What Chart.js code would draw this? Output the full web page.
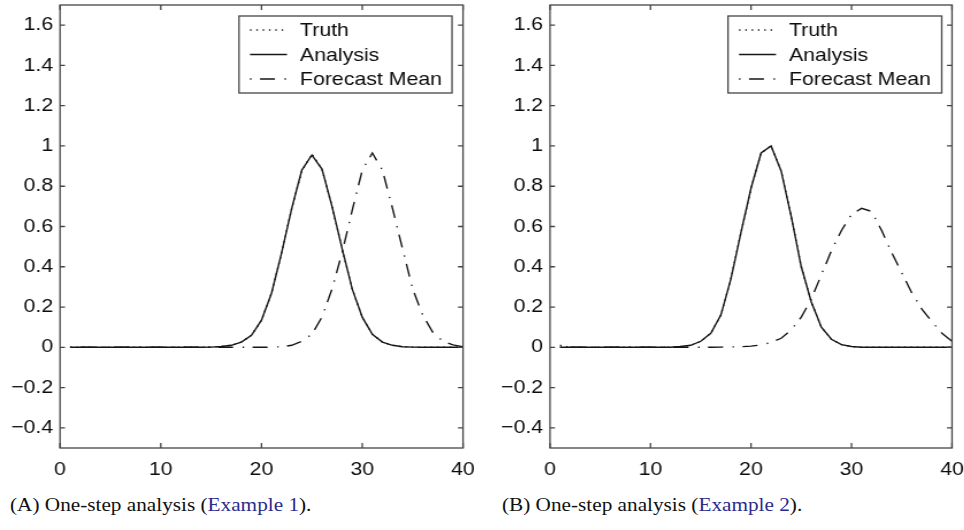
<!DOCTYPE html>
<html>
<head>
<meta charset="utf-8">
<script src="https://cdn.jsdelivr.net/npm/chart.js@4/dist/chart.umd.min.js"></script>
<style>
  html, body { margin:0; padding:0; background:#fff; }
  body { width:964px; height:530px; overflow:hidden; position:relative; }
  .stretch { position:absolute; top:0; height:490px; transform:scaleX(1.15); transform-origin:0 0; }
  #w1 { left:0; width:417px; }
  #w2 { left:480px; width:421px; }
  .cap { position:absolute; top:494px; font-family:"Liberation Serif","Times New Roman",serif; font-size:18px;
         line-height:22px; color:#111; white-space:nowrap; transform:scaleX(1.18); transform-origin:0 0; }
  .cap span { color:#2b2b8e; }
</style>
</head>
<body>
<div class="stretch" id="w1"><canvas id="c1"></canvas></div>
<div class="stretch" id="w2"><canvas id="c2"></canvas></div>
<div class="cap" style="left:10px;">(A) One-step analysis (<span>Example 1</span>).</div>
<div class="cap" style="left:502px;">(B) One-step analysis (<span>Example 2</span>).</div>
<script>
// ---- data ----
const xs = [1,2,3,4,5,6,7,8,9,10,11,12,13,14,15,16,17,18,19,20,21,22,23,24,25,26,27,28,29,30,31,32,33,34,35,36,37,38,39,40];
const xTicks = [0, 10, 20, 30, 40];
const yTicks = [-0.4, -0.2, 0, 0.2, 0.4, 0.6, 0.8, 1, 1.2, 1.4, 1.6];
const seriesNames = ['Truth', 'Analysis', 'Forecast Mean'];

// Example 1
const truthA    = [0,0,0,0,0,0,0,0,0,0,0,0,0,0,0.001,0.004,0.01,0.026,0.06,0.135,0.27,0.47,0.69,0.875,0.96,0.885,0.70,0.49,0.29,0.15,0.065,0.026,0.01,0.003,0.001,0,0,0,0,0];
const analysisA = [0,0,0,0,0,0,0,0,0,0,0,0,0,0,0.001,0.004,0.01,0.026,0.06,0.135,0.27,0.47,0.69,0.88,0.955,0.885,0.70,0.49,0.29,0.15,0.065,0.026,0.01,0.003,0.001,0,0,0,0,0];
const forecastA = [0,0,0,0,0,0,0,0,0,0,0,0,0,0,0,0,0,0,0,0,0.001,0.003,0.01,0.03,0.065,0.15,0.29,0.47,0.68,0.88,0.965,0.88,0.69,0.49,0.29,0.16,0.075,0.03,0.012,0.003];

// Example 2
const truthB    = [0.01,0,0,0,0,0,0,0,0,0,0,0,0.004,0.01,0.03,0.07,0.16,0.34,0.57,0.79,0.965,1.0,0.875,0.65,0.40,0.225,0.10,0.04,0.013,0.004,0,0,0,0,0,0,0,0,0,0];
const analysisB = [0,0,0,0,0,0,0,0,0,0,0,0,0.004,0.01,0.03,0.07,0.16,0.34,0.57,0.79,0.965,1.0,0.875,0.65,0.40,0.225,0.10,0.04,0.013,0.004,0,0,0,0,0,0,0,0,0,0];
const forecastB = [0,0,0,0,0,0,0,0,0,0,0,0,0,0,0,0,0.001,0.002,0.003,0.006,0.012,0.024,0.045,0.086,0.15,0.24,0.36,0.48,0.58,0.66,0.69,0.675,0.58,0.47,0.37,0.27,0.19,0.127,0.07,0.03];

// ---- styling ----
const K = 1.15;               // horizontal stretch of the reference
const INK = '#161616';
const FRAME = '#454545';
const TXT = '#0c0c0c';
const tickFont = { family: '"Liberation Sans", Arial, Helvetica, sans-serif', size: 18.5 };
const legendFont = '18.5px "Liberation Sans", Arial, Helvetica, sans-serif';
const dashes = [[1.3, 4.2], [], [1.3, 7.4, 13, 8.3]];

function fmt(v) {
  if (Math.abs(v) < 1e-9) return '0';
  const s = String(Math.round(v * 10) / 10);
  return s.replace('-', '\u2212');
}

const framePlugin = {
  id: 'frameAndLegend',
  afterDatasetsDraw(chart, args, opts) {
    const { ctx, chartArea: a, scales } = chart;
    const x = scales.x, y = scales.y;
    ctx.save();
    ctx.setLineDash([]);
    ctx.strokeStyle = FRAME;
    ctx.lineWidth = 1.3;
    ctx.strokeRect(a.left, a.top, a.right - a.left, a.bottom - a.top);
    ctx.beginPath();
    const LV = 5, LH = 5 / K;
    x.ticks.forEach(t => {
      const px = x.getPixelForValue(t.value);
      ctx.moveTo(px, a.bottom); ctx.lineTo(px, a.bottom - LV);
      ctx.moveTo(px, a.top); ctx.lineTo(px, a.top + LV);
    });
    y.ticks.forEach(t => {
      const py = y.getPixelForValue(t.value);
      ctx.moveTo(a.left, py); ctx.lineTo(a.left + LH, py);
      ctx.moveTo(a.right, py); ctx.lineTo(a.right - LH, py);
    });
    ctx.stroke();

    // legend box
    const bw = opts.boxW / K, bh = 77;
    const bx = a.right - opts.inset / K - bw, by = 16;
    ctx.fillStyle = '#fff';
    ctx.fillRect(bx, by, bw, bh);
    ctx.strokeStyle = FRAME;
    ctx.lineWidth = 1.3;
    ctx.strokeRect(bx, by, bw, bh);
    ctx.font = legendFont;
    ctx.textBaseline = 'middle';
    ctx.textAlign = 'left';
    chart.data.datasets.forEach((d, i) => {
      const yy = by + 14 + i * 24.5;
      ctx.strokeStyle = d.borderColor;
      ctx.lineWidth = d.borderWidth;
      ctx.setLineDash(d.borderDash || []);
      ctx.beginPath();
      ctx.moveTo(bx + 11 / K, yy);
      ctx.lineTo(bx + 48 / K, yy);
      ctx.stroke();
      ctx.setLineDash([]);
      ctx.fillStyle = TXT;
      ctx.fillText(d.label, bx + 61 / K, yy + 1);
    });
    ctx.restore();
  }
};

function makeChart(id, series, yAxisW, padRight, boxW, inset) {
  const datasets = series.map((vals, i) => ({
    label: seriesNames[i],
    data: xs.map((xv, j) => ({ x: xv, y: vals[j] })),
    borderColor: INK,
    borderWidth: 1.4,
    borderDash: dashes[i],
    pointRadius: 0,
    tension: 0,
    fill: false
  }));
  return new Chart(document.getElementById(id), {
    type: 'line',
    data: { datasets },
    plugins: [framePlugin],
    options: {
      animation: false,
      responsive: true,
      maintainAspectRatio: false,
      devicePixelRatio: 1,
      layout: { padding: { top: 5, right: padRight, bottom: 0, left: 0 } },
      plugins: {
        legend: { display: false },
        tooltip: { enabled: false },
        frameAndLegend: { boxW, inset }
      },
      scales: {
        x: {
          type: 'linear', min: 0, max: 40,
          grid: { display: false, drawTicks: false },
          border: { display: false },
          ticks: { font: tickFont, color: TXT, padding: 11, maxRotation: 0, autoSkip: false, callback: v => fmt(v) },
          afterBuildTicks: s => { s.ticks = xTicks.map(v => ({ value: v })); },
          afterFit: s => { s.height = 42; s.paddingLeft = 0; s.paddingRight = 0; }
        },
        y: {
          type: 'linear', min: -0.5, max: 1.7,
          grid: { display: false, drawTicks: false },
          border: { display: false },
          ticks: { font: tickFont, color: TXT, padding: 6, autoSkip: false, callback: v => fmt(v) },
          afterBuildTicks: s => { s.ticks = yTicks.map(v => ({ value: v })); },
          afterFit: s => { s.width = yAxisW; s.paddingTop = 0; s.paddingBottom = 0; }
        }
      }
    }
  });
}

makeChart('c1', [truthA, analysisA, forecastA], 60 / K, 417 - 463 / K, 213, 11);
makeChart('c2', [truthB, analysisB, forecastB], 70 / K, 421 - 472 / K, 213.7, 10.3);
</script>
</body>
</html>
